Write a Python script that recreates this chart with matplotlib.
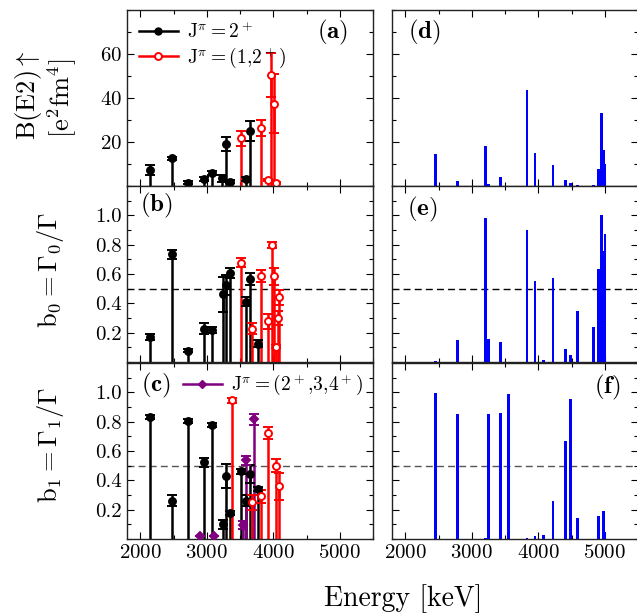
import matplotlib
matplotlib.use("Agg")
import matplotlib.pyplot as plt
from matplotlib.ticker import MultipleLocator
from matplotlib.lines import Line2D
import numpy as np

plt.rcParams['font.family'] = 'serif'
plt.rcParams['font.serif'] = ['cmr10']
plt.rcParams['mathtext.fontset'] = 'cm'
plt.rcParams['axes.formatter.use_mathtext'] = True
plt.rcParams['axes.unicode_minus'] = False

# ---- data: experiment (left column) ----
# (a) B(E2) up
a_blk_E = [2149, 2473, 2721, 2960, 3085, 3234, 3284, 3353, 3597, 3652]
a_blk_v = [7.3, 12.6, 1.5, 3.2, 5.8, 3.5, 19.1, 2.0, 3.3, 25.0]
a_blk_e = [2.2, 0.8, 0.6, 0.8, 0.8, 1.5, 3.4, 0.8, 0.8, 4.7]
a_red_E = [3517, 3821, 3915, 3970, 4010, 4040]
a_red_v = [21.7, 26.5, 2.7, 50.5, 37.4, 1.2]
a_red_e = [3.3, 3.7, 0.6, 10.0, 13.5, 0.4]

# (b) b0
b_blk_E = [2149, 2473, 2721, 2960, 3085, 3240, 3284, 3343, 3592, 3652, 3771]
b_blk_v = [0.168, 0.733, 0.076, 0.228, 0.216, 0.462, 0.524, 0.605, 0.41, 0.565, 0.124]
b_blk_e = [0.02, 0.03, 0.01, 0.04, 0.02, 0.12, 0.07, 0.035, 0.03, 0.04, 0.025]
b_red_E = [3517, 3682, 3821, 3915, 3975, 4005, 4040, 4075, 4080]
b_red_v = [0.676, 0.228, 0.584, 0.278, 0.795, 0.584, 0.105, 0.30, 0.44]
b_red_e = [0.03, 0.04, 0.04, 0.05, 0.02, 0.06, 0.01, 0.05, 0.05]

# (c) b1
c_blk_E = [2149, 2473, 2721, 2960, 3085, 3240, 3284, 3343, 3522, 3597, 3652, 3771]
c_blk_v = [0.833, 0.262, 0.803, 0.523, 0.776, 0.10, 0.431, 0.176, 0.461, 0.262, 0.445, 0.34]
c_blk_e = [0.015, 0.04, 0.015, 0.03, 0.015, 0.03, 0.08, 0.015, 0.015, 0.04, 0.06, 0.015]
c_red_E = [3378, 3682, 3821, 3925, 4040, 4080]
c_red_v = [0.945, 0.249, 0.29, 0.724, 0.50, 0.358]
c_red_e = [0.015, 0.05, 0.045, 0.04, 0.045, 0.09]
c_pur_E = [2905, 3109, 3552, 3597, 3706]
c_pur_v = [0.02, 0.023, 0.096, 0.536, 0.815]
c_pur_e = [0.0, 0.0, 0.03, 0.03, 0.04]

# ---- data: calculation (right column) ----
th_E = [2450, 2785, 3210, 3250, 3435, 3555, 3829, 3949, 4079, 4219,
        4409, 4484, 4594, 4829, 4904, 4954, 4979, 5004]
d_v = [14.4, 2.3, 18.3, 1.0, 4.1, 0.2, 43.6, 14.8, 0.2, 9.7,
       2.6, 1.2, 0.5, 0.5, 7.7, 33.0, 16.5, 10.0]
e_v = [0.007, 0.15, 0.984, 0.154, 0.133, 0.003, 0.897, 0.549, 0.011, 0.572,
       0.092, 0.046, 0.347, 0.239, 0.634, 1.0, 0.76, 0.874]
f_v = [0.998, 0.849, 0.005, 0.849, 0.86, 0.991, 0.004, 0.023, 0.027, 0.256,
       0.667, 0.957, 0.142, 0.003, 0.158, 0.0, 0.192, 0.046]

RED = '#ff0000'
PUR = '#800080'
BLUE = '#0000ff'

fig = plt.figure(figsize=(6.37, 6.14), dpi=100)
W, H = 637.0, 614.0
lx, rx, aw = 127, 392, 246
rows = [(10, 186), (186, 362), (363, 539)]
axs = []
for (top, bot) in rows:
    r = []
    for x0 in (lx, rx):
        r.append(fig.add_axes([x0 / W, 1 - bot / H, aw / W, (bot - top) / H]))
    axs.append(r)


def stems(ax, E, v, err, color, marker, ms, mfc):
    ax.vlines(E, 0, v, color=color, lw=1.8, zorder=2)
    ax.errorbar(E, v, yerr=err, fmt=marker, color=color, ms=ms, mfc=mfc,
                mec=color, mew=1.4, capsize=3.5, elinewidth=1.8, capthick=1.5,
                zorder=3)


for i, row in enumerate(axs):
    for j, ax in enumerate(row):
        ax.set_xlim(1800, 5500)
        ax.xaxis.set_major_locator(MultipleLocator(1000))
        ax.xaxis.set_minor_locator(MultipleLocator(500))
        if i == 0:
            ax.set_ylim(0, 80)
            ax.yaxis.set_major_locator(MultipleLocator(20))
            ax.yaxis.set_minor_locator(MultipleLocator(10))
            ax.set_yticks([20, 40, 60])
        else:
            ax.set_ylim(0, 1.2)
            ax.set_yticks([0.2, 0.4, 0.6, 0.8, 1.0])
            ax.yaxis.set_minor_locator(MultipleLocator(0.1))
            ax.set_yticklabels(['0.2', '0.4', '0.6', '0.8', '1.0'])
            ax.axhline(0.5, color='black' if i == 1 else '#555555',
                       ls=(0, (5, 3)), lw=1.0, zorder=1)
        ax.tick_params(which='both', direction='in', top=True, right=True,
                       labelsize=15, width=0.8)
        ax.tick_params(which='major', length=5)
        ax.tick_params(which='minor', length=3)
        if i < 2:
            ax.tick_params(labelbottom=False)
        if j == 1:
            ax.tick_params(labelleft=False)
        for s in ax.spines.values():
            s.set_linewidth(1.0)
            s.set_color('#222222')

# left column
ax = axs[0][0]
stems(ax, a_blk_E, a_blk_v, a_blk_e, 'black', 'o', 5, 'black')
stems(ax, a_red_E, a_red_v, a_red_e, RED, 'o', 5, 'white')
h1 = Line2D([], [], color='black', lw=1.8, marker='o', ms=5)
h2 = Line2D([], [], color=RED, lw=1.8, marker='o', ms=5, mfc='white', mew=1.4)
ax.legend([h1, h2], [r'J$^\pi = 2^+$', r'J$^\pi = (1{,}2^+)$'], loc='upper left',
          frameon=False, fontsize=14, handlelength=2.0, borderaxespad=0.2,
          labelspacing=0.15, handletextpad=0.5)

ax = axs[1][0]
stems(ax, b_blk_E, b_blk_v, b_blk_e, 'black', 'o', 5, 'black')
stems(ax, b_red_E, b_red_v, b_red_e, RED, 'o', 5, 'white')

ax = axs[2][0]
stems(ax, c_blk_E, c_blk_v, c_blk_e, 'black', 'o', 5, 'black')
stems(ax, c_red_E, c_red_v, c_red_e, RED, 'o', 5, 'white')
stems(ax, c_pur_E, c_pur_v, c_pur_e, PUR, 'D', 4, PUR)
h3 = Line2D([], [], color=PUR, lw=1.8, marker='D', ms=4)
ax.legend([h3], [r'J$^\pi = (2^+{,}3{,}4^+)$'], loc='upper right',
          frameon=False, fontsize=14, handlelength=2.0, borderaxespad=0.1,
          handletextpad=0.5)

# right column
axs[0][1].bar(th_E, d_v, width=40, color=BLUE, zorder=2)
axs[1][1].bar(th_E, e_v, width=40, color=BLUE, zorder=2)
axs[2][1].bar(th_E, f_v, width=40, color=BLUE, zorder=2)

# panel letters
letters = [('(a)', 0, 0, 0.835, 0.87), ('(d)', 0, 1, 0.13, 0.87),
           ('(b)', 1, 0, 0.12, 0.89), ('(e)', 1, 1, 0.125, 0.865),
           ('(c)', 2, 0, 0.12, 0.875), ('(f)', 2, 1, 0.875, 0.86)]
for t, i, j, x, y in letters:
    axs[i][j].text(x, y, r'$\mathbf{%s}$' % t, transform=axs[i][j].transAxes,
                   fontsize=18, ha='center', va='center')

# axis labels
fig.text(28 / W, 1 - 95 / H, r'$\mathrm{B(E2)}\uparrow$', rotation=90,
         fontsize=19, ha='center', va='center')
fig.text(62 / W, 1 - 98 / H, r'$[\mathrm{e}^2\mathrm{fm}^4]$', rotation=90,
         fontsize=19, ha='center', va='center')
fig.text(50 / W, 1 - 270 / H, r'$\mathrm{b}_0 = \Gamma_0/\Gamma$', rotation=90,
         fontsize=19, ha='center', va='center')
fig.text(50 / W, 1 - 445 / H, r'$\mathrm{b}_1 = \Gamma_1/\Gamma$', rotation=90,
         fontsize=19, ha='center', va='center')
fig.text(403 / W, 1 - 599 / H, 'Energy [keV]', fontsize=20,
         ha='center', va='center')

fig.savefig('out.png', dpi=100)
